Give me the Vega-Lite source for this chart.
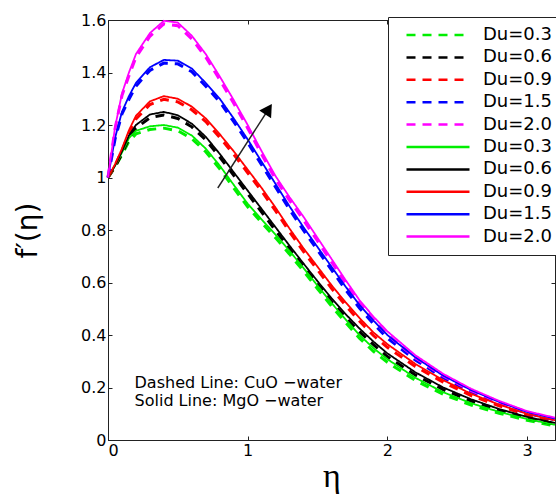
{
  "$schema": "https://vega.github.io/schema/vega-lite/v6.json",
  "width": 447,
  "height": 420,
  "autosize": "none",
  "padding": {"left": 108, "top": 20, "right": 1, "bottom": 58},
  "background": "white",
  "datasets": {
    "curves": [
      {"eta": 0, "s03": 1, "s06": 1, "s09": 1, "s15": 1, "s20": 1, "d03": 1, "d06": 1, "d09": 1, "d15": 1, "d20": 1},
      {"eta": 0.05, "s03": 1.045, "s06": 1.045, "s09": 1.05, "s15": 1.15, "s20": 1.19, "d03": 1.04, "d06": 1.04, "d09": 1.045, "d15": 1.145, "d20": 1.185},
      {"eta": 0.1, "s03": 1.095, "s06": 1.1, "s09": 1.11, "s15": 1.25, "s20": 1.32, "d03": 1.087, "d06": 1.092, "d09": 1.102, "d15": 1.242, "d20": 1.312},
      {"eta": 0.15, "s03": 1.15, "s06": 1.16, "s09": 1.18, "s15": 1.31, "s20": 1.4, "d03": 1.138, "d06": 1.148, "d09": 1.168, "d15": 1.298, "d20": 1.388},
      {"eta": 0.2, "s03": 1.178, "s06": 1.2, "s09": 1.235, "s15": 1.36, "s20": 1.47, "d03": 1.166, "d06": 1.188, "d09": 1.223, "d15": 1.348, "d20": 1.458},
      {"eta": 0.3, "s03": 1.195, "s06": 1.24, "s09": 1.29, "s15": 1.42, "s20": 1.55, "d03": 1.183, "d06": 1.228, "d09": 1.278, "d15": 1.408, "d20": 1.538},
      {"eta": 0.4, "s03": 1.2, "s06": 1.25, "s09": 1.31, "s15": 1.448, "s20": 1.597, "d03": 1.188, "d06": 1.238, "d09": 1.298, "d15": 1.436, "d20": 1.585},
      {"eta": 0.5, "s03": 1.19, "s06": 1.237, "s09": 1.3, "s15": 1.445, "s20": 1.59, "d03": 1.178, "d06": 1.225, "d09": 1.288, "d15": 1.433, "d20": 1.578},
      {"eta": 0.6, "s03": 1.16, "s06": 1.205, "s09": 1.27, "s15": 1.415, "s20": 1.54, "d03": 1.148, "d06": 1.193, "d09": 1.258, "d15": 1.403, "d20": 1.528},
      {"eta": 0.7, "s03": 1.11, "s06": 1.155, "s09": 1.225, "s15": 1.36, "s20": 1.47, "d03": 1.098, "d06": 1.143, "d09": 1.213, "d15": 1.348, "d20": 1.458},
      {"eta": 0.8, "s03": 1.045, "s06": 1.09, "s09": 1.165, "s15": 1.3, "s20": 1.385, "d03": 1.033, "d06": 1.078, "d09": 1.153, "d15": 1.288, "d20": 1.373},
      {"eta": 0.9, "s03": 0.972, "s06": 1.02, "s09": 1.1, "s15": 1.225, "s20": 1.295, "d03": 0.96, "d06": 1.008, "d09": 1.088, "d15": 1.213, "d20": 1.283},
      {"eta": 1.0, "s03": 0.9, "s06": 0.95, "s09": 1.03, "s15": 1.145, "s20": 1.2, "d03": 0.888, "d06": 0.938, "d09": 1.018, "d15": 1.133, "d20": 1.188},
      {"eta": 1.1, "s03": 0.84, "s06": 0.88, "s09": 0.96, "s15": 1.06, "s20": 1.1, "d03": 0.828, "d06": 0.868, "d09": 0.948, "d15": 1.048, "d20": 1.088},
      {"eta": 1.2, "s03": 0.782, "s06": 0.81, "s09": 0.885, "s15": 0.975, "s20": 1.005, "d03": 0.77, "d06": 0.798, "d09": 0.873, "d15": 0.963, "d20": 0.993},
      {"eta": 1.3, "s03": 0.72, "s06": 0.74, "s09": 0.805, "s15": 0.89, "s20": 0.925, "d03": 0.708, "d06": 0.728, "d09": 0.793, "d15": 0.878, "d20": 0.913},
      {"eta": 1.4, "s03": 0.655, "s06": 0.672, "s09": 0.73, "s15": 0.81, "s20": 0.85, "d03": 0.643, "d06": 0.66, "d09": 0.718, "d15": 0.798, "d20": 0.838},
      {"eta": 1.5, "s03": 0.588, "s06": 0.605, "s09": 0.66, "s15": 0.735, "s20": 0.77, "d03": 0.576, "d06": 0.593, "d09": 0.648, "d15": 0.723, "d20": 0.758},
      {"eta": 1.6, "s03": 0.522, "s06": 0.54, "s09": 0.59, "s15": 0.66, "s20": 0.69, "d03": 0.51, "d06": 0.528, "d09": 0.578, "d15": 0.648, "d20": 0.678},
      {"eta": 1.7, "s03": 0.46, "s06": 0.48, "s09": 0.525, "s15": 0.585, "s20": 0.61, "d03": 0.448, "d06": 0.468, "d09": 0.513, "d15": 0.573, "d20": 0.598},
      {"eta": 1.8, "s03": 0.4, "s06": 0.425, "s09": 0.465, "s15": 0.515, "s20": 0.533, "d03": 0.388, "d06": 0.413, "d09": 0.453, "d15": 0.503, "d20": 0.521},
      {"eta": 1.9, "s03": 0.35, "s06": 0.375, "s09": 0.41, "s15": 0.455, "s20": 0.47, "d03": 0.338, "d06": 0.363, "d09": 0.398, "d15": 0.443, "d20": 0.458},
      {"eta": 2.0, "s03": 0.308, "s06": 0.33, "s09": 0.365, "s15": 0.4, "s20": 0.414, "d03": 0.296, "d06": 0.318, "d09": 0.353, "d15": 0.388, "d20": 0.402},
      {"eta": 2.2, "s03": 0.237, "s06": 0.258, "s09": 0.29, "s15": 0.315, "s20": 0.323, "d03": 0.227, "d06": 0.248, "d09": 0.28, "d15": 0.305, "d20": 0.313},
      {"eta": 2.4, "s03": 0.182, "s06": 0.2, "s09": 0.228, "s15": 0.245, "s20": 0.252, "d03": 0.174, "d06": 0.192, "d09": 0.22, "d15": 0.237, "d20": 0.244},
      {"eta": 2.6, "s03": 0.14, "s06": 0.155, "s09": 0.176, "s15": 0.19, "s20": 0.195, "d03": 0.133, "d06": 0.148, "d09": 0.169, "d15": 0.183, "d20": 0.188},
      {"eta": 2.8, "s03": 0.107, "s06": 0.118, "s09": 0.135, "s15": 0.145, "s20": 0.149, "d03": 0.102, "d06": 0.113, "d09": 0.13, "d15": 0.14, "d20": 0.144},
      {"eta": 3.0, "s03": 0.08, "s06": 0.088, "s09": 0.1, "s15": 0.107, "s20": 0.11, "d03": 0.075, "d06": 0.083, "d09": 0.095, "d15": 0.102, "d20": 0.105},
      {"eta": 3.2, "s03": 0.058, "s06": 0.065, "s09": 0.075, "s15": 0.082, "s20": 0.085, "d03": 0.053, "d06": 0.06, "d09": 0.07, "d15": 0.077, "d20": 0.08}
    ],
    "notes": [
      {"x": 0.19, "y": 0.2, "t": "Dashed Line: CuO −water"},
      {"x": 0.19, "y": 0.128, "t": "Solid Line: MgO −water"}
    ],
    "arrow": [
      {"x": 0.786, "y": 0.96, "x2": 1.149, "y2": 1.26}
    ]
  },
  "config": {
    "view": {"stroke": "#222", "strokeWidth": 1},
    "axis": {
      "grid": false,
      "domainColor": "#222",
      "tickColor": "#222",
      "tickSize": -4,
      "labelFont": "DejaVu Sans",
      "labelFontSize": 16,
      "labelColor": "black",
      "labelPadding": 6,
      "titleColor": "black",
      "titleFontWeight": "normal"
    },
    "legend": {
      "orient": "none",
      "legendX": 280,
      "legendY": -3,
      "strokeColor": "#222",
      "fillColor": "white",
      "padding": 9,
      "symbolType": "M-6.3,0H6.3",
      "symbolSize": 100,
      "symbolOffset": 32,
      "symbolStrokeWidth": 2.5,
      "labelFont": "DejaVu Sans",
      "labelFontSize": 18,
      "labelColor": "black",
      "labelOffset": 36,
      "rowPadding": 4.4
    }
  },
  "resolve": {"axis": {"x": "independent", "y": "independent"}},
  "layer": [
    {
      "data": {"name": "curves"},
      "transform": [{"fold": ["d03", "d06", "d09", "d15", "d20"], "as": ["s", "f"]}],
      "mark": {"type": "line", "strokeWidth": 3},
      "encoding": {
        "x": {"field": "eta", "type": "quantitative", "scale": {"domain": [0, 3.2], "nice": false},
          "axis": {"orient": "bottom", "values": [0, 1, 2, 3], "format": "d", "title": "η",
            "titleFont": "Liberation Serif", "titleFontSize": 34, "titleY": 46, "titleBaseline": "alphabetic"}},
        "y": {"field": "f", "type": "quantitative", "scale": {"domain": [0, 1.6], "nice": false},
          "axis": {"orient": "left", "values": [0, 0.2, 0.4, 0.6, 0.8, 1, 1.2, 1.4, 1.6], "format": ".1~f", "title": "f′(η)",
            "titleFont": "DejaVu Sans", "titleFontSize": 28, "titleX": -80, "titleY": 210, "titleBaseline": "middle"}},
        "color": {"field": "s", "type": "nominal",
          "scale": {"domain": ["d03", "d06", "d09", "d15", "d20", "s03", "s06", "s09", "s15", "s20"],
            "range": ["#00ee00", "#000000", "#ff0000", "#0000ff", "#ff00ff", "#00ee00", "#000000", "#ff0000", "#0000ff", "#ff00ff"]},
          "legend": {"title": null, "labelExpr": "'Du=' + substring(datum.label,1,2) + '.' + substring(datum.label,2,3)"}},
        "strokeDash": {"field": "s", "type": "nominal",
          "scale": {"domain": ["d03", "d06", "d09", "d15", "d20", "s03", "s06", "s09", "s15", "s20"],
            "range": [[9, 7], [9, 7], [9, 7], [9, 7], [9, 7], [1, 0], [1, 0], [1, 0], [1, 0], [1, 0]]},
          "legend": {"title": null, "labelExpr": "'Du=' + substring(datum.label,1,2) + '.' + substring(datum.label,2,3)"}}
      }
    },
    {
      "data": {"name": "curves"},
      "transform": [{"fold": ["s03", "s06", "s09", "s15", "s20"], "as": ["s", "f"]}],
      "mark": {"type": "line", "strokeWidth": 1.8},
      "encoding": {
        "x": {"field": "eta", "type": "quantitative", "axis": null},
        "y": {"field": "f", "type": "quantitative", "axis": null},
        "color": {"field": "s", "type": "nominal"},
        "strokeDash": {"field": "s", "type": "nominal"}
      }
    },
    {
      "data": {"name": "notes"},
      "mark": {"type": "text", "align": "left", "baseline": "alphabetic", "font": "DejaVu Sans", "fontSize": 16, "color": "black"},
      "encoding": {
        "x": {"field": "x", "type": "quantitative",
          "axis": {"orient": "top", "values": [0, 1, 2, 3], "labels": false, "title": null, "domain": false}},
        "y": {"field": "y", "type": "quantitative",
          "axis": {"orient": "right", "values": [0, 0.2, 0.4, 0.6, 0.8, 1, 1.2, 1.4, 1.6], "labels": false, "title": null, "domain": false}},
        "text": {"field": "t"}
      }
    },
    {
      "data": {"name": "arrow"},
      "mark": {"type": "rule", "color": "#222", "strokeWidth": 1.4},
      "encoding": {
        "x": {"field": "x", "type": "quantitative", "axis": null},
        "y": {"field": "y", "type": "quantitative", "axis": null},
        "x2": {"field": "x2"},
        "y2": {"field": "y2"}
      }
    },
    {
      "data": {"name": "arrow"},
      "mark": {"type": "point", "shape": "triangle-up", "filled": true, "color": "black", "size": 200, "angle": 33, "opacity": 1},
      "encoding": {
        "x": {"field": "x2", "type": "quantitative", "axis": null},
        "y": {"field": "y2", "type": "quantitative", "axis": null}
      }
    }
  ]
}
